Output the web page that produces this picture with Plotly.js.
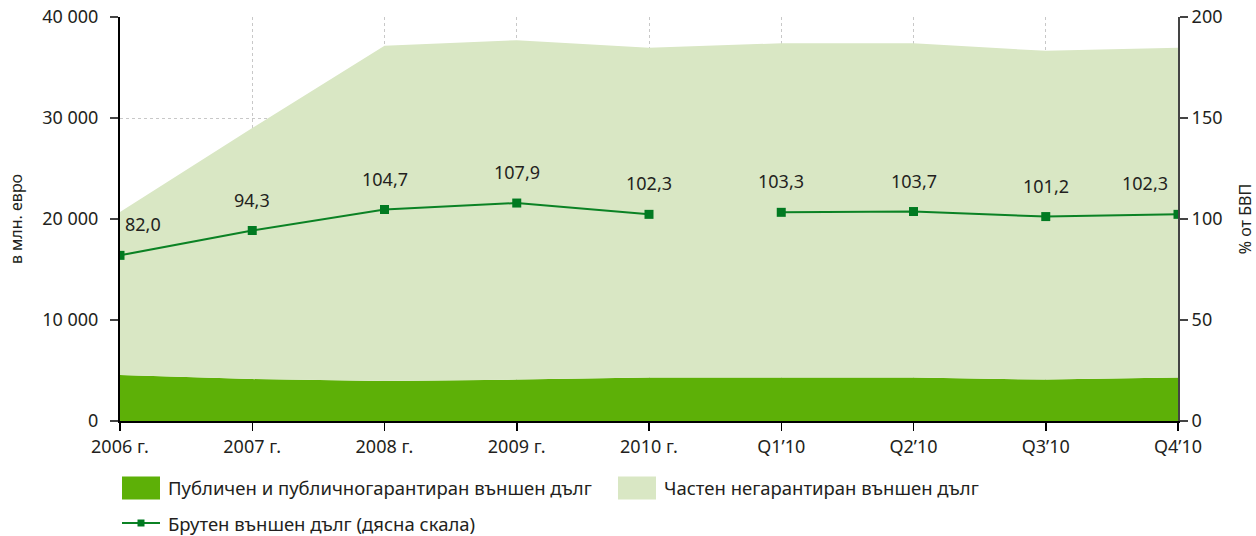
<!DOCTYPE html>
<html lang="bg">
<head>
<meta charset="utf-8">
<script src="https://cdn.plot.ly/plotly-3.0.1.min.js"></script>
<style>html,body{margin:0;padding:0;background:#fff;}#chart{width:1256px;height:536px;}</style>
</head>
<body>
<div id="chart"></div>
<script>
const categories = ["2006 г.", "2007 г.", "2008 г.", "2009 г.", "2010 г.", "Q1’10", "Q2’10", "Q3’10", "Q4’10"];
const publicDebt = [4550, 4150, 3950, 4100, 4300, 4300, 4300, 4100, 4300];
const privateDebt = [16150, 24850, 33200, 33600, 32650, 33100, 33100, 32550, 32650];
const grossDebtPct = [82.0, 94.3, 104.7, 107.9, 102.3, 103.3, 103.7, 101.2, 102.3];
const seriesNames = ["Публичен и публичногарантиран външен дълг", "Частен негарантиран външен дълг", "Брутен външен дълг (дясна скала)"];
const yLeftTitle = "в млн. евро";
const yRightTitle = "% от БВП";

const FONT = "Noto Sans, Roboto, Arial, sans-serif";
const TXT = "#231f20";
const C_PUB = "#5db007";
const C_PRIV = "#d9e7c4";
const C_LINE = "#0b8224";
const C_MARK = "#017a21";

const firstSeg = 5; // line is broken between 2010 and Q1'10
const traces = [
  {x: categories, y: publicDebt, name: seriesNames[0], type: "scatter", mode: "none",
   stackgroup: "debt", fillcolor: C_PUB, line: {width: 0}, hoverinfo: "y"},
  {x: categories, y: privateDebt, name: seriesNames[1], type: "scatter", mode: "none",
   stackgroup: "debt", fillcolor: C_PRIV, line: {width: 0}, hoverinfo: "y"},
  {x: categories.slice(0, firstSeg), y: grossDebtPct.slice(0, firstSeg), yaxis: "y2", type: "scatter",
   mode: "lines+markers", name: seriesNames[2], line: {color: C_LINE, width: 2},
   marker: {symbol: "square", size: 9, color: C_MARK}},
  {x: categories.slice(firstSeg), y: grossDebtPct.slice(firstSeg), yaxis: "y2", type: "scatter",
   mode: "lines+markers", name: seriesNames[2], line: {color: C_LINE, width: 2},
   marker: {symbol: "square", size: 9, color: C_MARK}}
];

const last = grossDebtPct.length - 1;
const annotations = grossDebtPct.map((v, i) => ({
  x: categories[i], y: v, xref: "x", yref: "y2",
  text: v.toFixed(1).replace(".", ","), showarrow: false,
  yshift: 31, xshift: i === 0 ? 23 : (i === last ? -33 : 0),
  font: {family: FONT, size: 18, color: TXT}
}));

// Manual legend
const shapes = [];
const legendRows = [
  {kind: "fill", color: C_PUB, x0: 122, y: 488, name: seriesNames[0]},
  {kind: "fill", color: C_PRIV, x0: 618, y: 488, name: seriesNames[1]},
  {kind: "line", color: C_LINE, x0: 122, y: 523, name: seriesNames[2]}
];
const W = 1256, H = 536;
const M = {l: 120, r: 78, t: 17, b: 115};
const PW = W - M.l - M.r, PH = H - M.t - M.b;
const gx = x => (x - M.l) / PW;
const gy = y => (H - M.b - y) / PH;
legendRows.forEach(r => {
  if (r.kind === "fill") {
    shapes.push({type: "rect", xref: "paper", yref: "paper", x0: gx(r.x0), x1: gx(r.x0 + 38),
      y0: gy(r.y - 11.5), y1: gy(r.y + 11.5), fillcolor: r.color, line: {width: 0}});
  } else {
    shapes.push({type: "line", xref: "paper", yref: "paper", x0: gx(r.x0), x1: gx(r.x0 + 38),
      y0: gy(r.y), y1: gy(r.y), line: {color: r.color, width: 2}});
    shapes.push({type: "rect", xref: "paper", yref: "paper", x0: gx(r.x0 + 15.5), x1: gx(r.x0 + 22.5),
      y0: gy(r.y - 3.5), y1: gy(r.y + 3.5), fillcolor: C_MARK, line: {width: 0}});
  }
  annotations.push({xref: "paper", yref: "paper", x: gx(r.x0 + 44), y: gy(r.y), xanchor: "left",
    yanchor: "middle", text: r.name, showarrow: false, font: {family: FONT, size: 18.5, color: TXT}});
});

const layout = {
  width: W, height: H,
  margin: M,
  paper_bgcolor: "#fff", plot_bgcolor: "#fff",
  separators: ", ",
  showlegend: false,
  font: {family: FONT, size: 18, color: TXT},
  xaxis: {type: "category", range: [0, 8], showline: true, linecolor: "#000", linewidth: 2,
    ticks: "outside", ticklen: 8, tickcolor: "#000", tickwidth: 1.5,
    showgrid: true, gridcolor: "#c8c8c8", griddash: "dot", gridwidth: 1,
    tickfont: {family: FONT, size: 18, color: TXT}, zeroline: false, fixedrange: true},
  yaxis: {range: [0, 40000], dtick: 10000, tickformat: ",d", showline: true, linecolor: "#000",
    linewidth: 2, ticks: "outside", ticklen: 8, tickcolor: "#444", tickwidth: 1.5,
    ticklabelstandoff: 8,
    showgrid: true, gridcolor: "#c8c8c8", griddash: "dot", gridwidth: 1, zeroline: false,
    tickfont: {family: FONT, size: 18, color: TXT},
    title: {text: yLeftTitle, font: {family: FONT, size: 16, color: TXT}, standoff: 16}},
  yaxis2: {range: [0, 200], dtick: 50, overlaying: "y", side: "right", showline: true,
    linecolor: "#444", linewidth: 2, ticks: "outside", ticklen: 8, tickcolor: "#444", tickwidth: 1.5,
    showgrid: false, zeroline: false, tickfont: {family: FONT, size: 18, color: TXT},
    title: {text: yRightTitle, font: {family: FONT, size: 16, color: TXT}, standoff: 19}},
  annotations: annotations,
  shapes: shapes
};

Plotly.newPlot("chart", traces, layout, {displayModeBar: false, staticPlot: true});
</script>
</body>
</html>
